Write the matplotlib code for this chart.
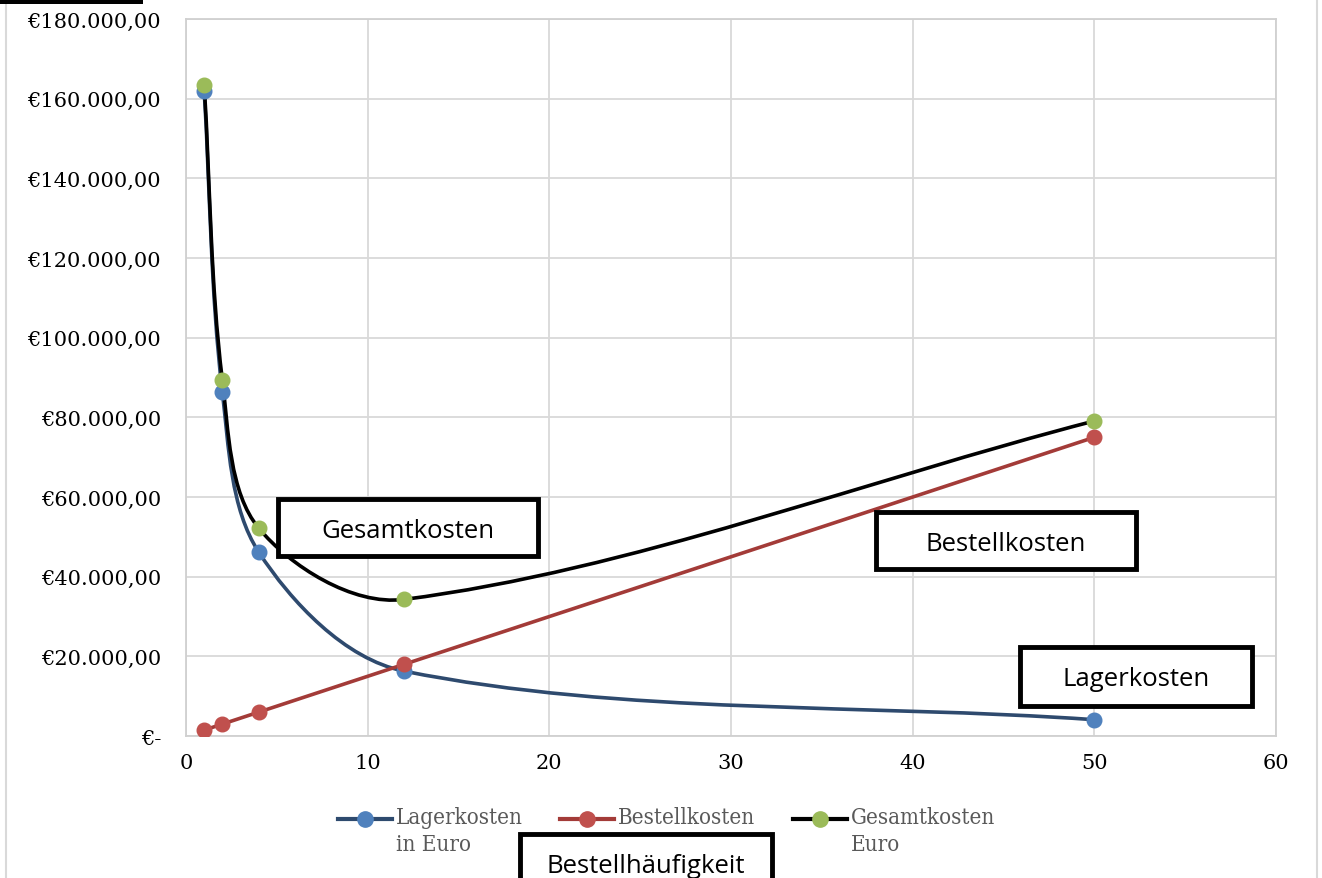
import matplotlib
matplotlib.use("Agg")
import math
import matplotlib.pyplot as plt
from matplotlib.path import Path
from matplotlib.patches import PathPatch, Rectangle
from matplotlib.lines import Line2D
from matplotlib.ticker import FuncFormatter

# order frequency per year
bestellungen = [1, 2, 4, 12, 50]
lagerkosten = [162000, 86400, 46200, 16300, 4100]
bestellkosten = [1500, 3000, 6000, 18000, 75000]
gesamtkosten = [163500, 89400, 52200, 34300, 79100]

series = [
    ("Lagerkosten\nin Euro", lagerkosten, "#2e4a6e", "#4f81bd"),
    ("Bestellkosten", bestellkosten, "#a33b38", "#c0504d"),
    ("Gesamtkosten\nEuro", gesamtkosten, "#000000", "#9bbb59"),
]

W, H = 1322.0, 879.0
AX_RECT = [0.1407, 0.1615, 0.8245, 0.8157]
XMAX, YMAX = 60, 180000


def smooth_path(xs, ys):
    # Excel style smoothed line: bezier segments, tangents weighted by
    # segment length on screen
    sx = AX_RECT[2] * W / XMAX
    sy = AX_RECT[3] * H / YMAX
    pts = list(zip(xs, ys))
    n = len(pts)

    def dist(a, b):
        return math.hypot((a[0] - b[0]) * sx, (a[1] - b[1]) * sy)

    verts = [pts[0]]
    codes = [Path.MOVETO]
    for i in range(n - 1):
        p0 = pts[i - 1] if i > 0 else pts[i]
        p1 = pts[i]
        p2 = pts[i + 1]
        p3 = pts[i + 2] if i + 2 < n else pts[i + 1]
        d01, d12, d23 = dist(p0, p1), dist(p1, p2), dist(p2, p3)
        f1 = d12 / (d01 + d12) / 3
        f2 = d12 / (d12 + d23) / 3
        c1 = (p1[0] + (p2[0] - p0[0]) * f1, p1[1] + (p2[1] - p0[1]) * f1)
        c2 = (p2[0] - (p3[0] - p1[0]) * f2, p2[1] - (p3[1] - p1[1]) * f2)
        verts += [c1, c2, p2]
        codes += [Path.CURVE4] * 3
    return Path(verts, codes)


def euro(v, pos):
    if v == 0:
        return "€-"
    return "€" + "{:,.2f}".format(v).replace(",", "X").replace(".", ",").replace("X", ".")


fig = plt.figure(figsize=(W / 100, H / 100), dpi=100)
ax = fig.add_axes(AX_RECT)

for label, ys, lc, mc in series:
    ax.add_patch(PathPatch(smooth_path(bestellungen, ys), facecolor="none",
                           edgecolor=lc, lw=2.6, zorder=3))
    ax.plot(bestellungen, ys, linestyle="none", marker="o", ms=10.5,
            color=mc, zorder=4)

ax.set_xlim(0, XMAX)
ax.set_ylim(0, YMAX)
ax.set_xticks(range(0, 61, 10))
ax.set_yticks(range(0, 180001, 20000))
ax.yaxis.set_major_formatter(FuncFormatter(euro))
ax.grid(color="#d9d9d9", lw=1.3)
ax.set_axisbelow(True)
for side in ["left", "bottom", "right", "top"]:
    ax.spines[side].set_color("#d0d0d0")
    ax.spines[side].set_linewidth(1.3)
ax.tick_params(length=0, labelsize=15)
ax.tick_params(axis="y", pad=18)
ax.tick_params(axis="x", pad=12)
for t in ax.get_xticklabels() + ax.get_yticklabels():
    t.set_family("DejaVu Serif")

# legend, drawn by hand so the marker lines up with the first text line
leg_x = [338, 560, 793]
leg_y = 820
for (label, _, lc, mc), x0 in zip(series, leg_x):
    yy = 1 - leg_y / H
    fig.lines.append(Line2D([x0 / W, (x0 + 54) / W], [yy, yy],
                            transform=fig.transFigure, color=lc, lw=3))
    fig.lines.append(Line2D([(x0 + 27) / W], [yy], transform=fig.transFigure,
                            marker="o", ms=11, color=mc, linestyle="none"))
    fig.text((x0 + 58) / W, 1 - (leg_y - 13) / H, label, ha="left", va="top",
             fontsize=16, family="DejaVu Serif", color="#595959",
             linespacing=1.3, fontstretch="condensed")

# annotation boxes (figure pixel positions)
boxes = [
    ("Gesamtkosten", 278, 500, 260, 57),
    ("Bestellkosten", 876, 513, 260, 57),
    ("Lagerkosten", 1020, 648, 232, 59),
    ("Bestellhäufigkeit", 520, 835, 252, 60),
]
for text, x0, y0, w, h in boxes:
    fig.patches.append(Rectangle((x0 / W, 1 - (y0 + h) / H), w / W, h / H,
                                 transform=fig.transFigure, facecolor="white",
                                 edgecolor="black", lw=3.5, zorder=5))
    fig.text((x0 + w / 2) / W, 1 - (y0 + 32) / H, text,
             ha="center", va="center", fontsize=18.5, family="Open Sans",
             zorder=6)

# cropped box at top left and outer frame lines
fig.patches.append(Rectangle((0, 1 - 5 / H), 143 / W, 10 / H,
                             transform=fig.transFigure, facecolor="black",
                             edgecolor="none", zorder=5))
fig.lines.append(Line2D([6 / W, 6 / W], [0, 1], transform=fig.transFigure,
                        color="#d9d9d9", lw=1.5))
fig.lines.append(Line2D([1317 / W, 1317 / W], [0, 1], transform=fig.transFigure,
                        color="#d9d9d9", lw=1.5))

fig.savefig("out.png", dpi=100)
